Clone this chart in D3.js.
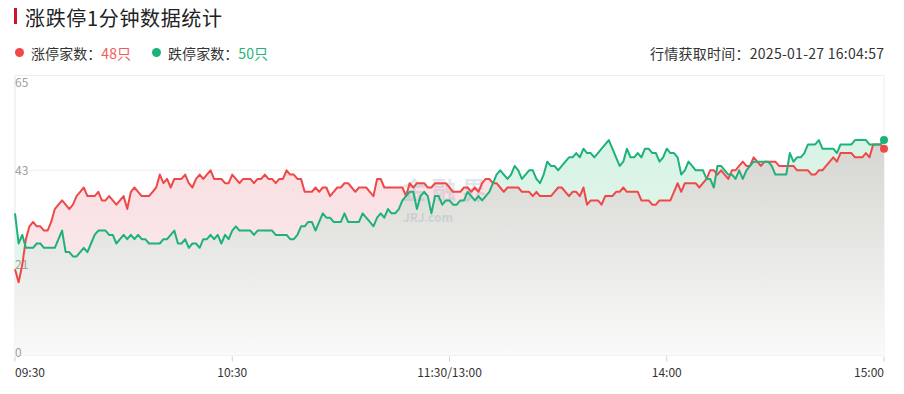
<!DOCTYPE html>
<html><head><meta charset="utf-8">
<script src="https://cdn.jsdelivr.net/npm/d3@7"></script>
<style>
body{margin:0;background:#fff;}
svg{display:block;font-family:"Microsoft YaHei","Noto Sans CJK SC","Noto Sans",sans-serif;}
</style>
</head><body>
<svg id="chart" width="904" height="394"></svg>
<script>
// ---- data ----
const title = "涨跌停1分钟数据统计";
const seriesNames = ["涨停家数", "跌停家数"];
const updateLabel = "行情获取时间：2025-01-27 16:04:57";
const xTickLabels = ["09:30", "10:30", "11:30/13:00", "14:00", "15:00"];
const xTickIndex = [0, 60, 120, 180, 240];
const yTicks = [0, 21, 43, 65];
// 涨停家数 per minute (241 points, 09:30 -> 15:00)
const limitUp = [
20,17,21,27,30,31,30,30,29,29,
31,34,35,36,35,34,35,37,38,39,
37,37,37,38,36,36,37,36,35,36,
37,34,38,39,38,37,37,37,38,39,
42,40,41,39,41,41,41,42,40,39,
41,42,41,42,43,41,41,41,40,40,
42,41,40,41,41,41,40,41,41,42,
41,41,40,41,41,43,42,42,41,41,
38,38,38,39,38,39,39,37,38,39,
39,40,40,39,38,39,39,39,38,37,
41,41,39,39,39,39,39,39,37,40,
39,40,40,40,39,39,40,40,40,40,
39,38,38,38,39,39,38,39,38,40,
41,41,40,40,39,38,39,39,39,39,
38,38,38,37,38,37,37,37,37,38,
39,39,38,37,38,38,37,39,35,36,
36,36,35,37,37,37,38,38,39,38,
38,38,38,36,36,36,35,35,36,36,
36,36,38,40,38,40,40,40,40,39,
40,41,43,43,42,43,42,41,43,43,
44,45,44,44,46,45,44,45,45,45,
45,44,44,44,44,44,43,43,43,43,
42,42,43,43,44,45,46,45,47,47,
47,47,46,46,46,47,46,49,49,49,
48];
// 跌停家数 per minute
const limitDown = [
33,26,28,25,25,25,26,26,25,25,
25,25,27,29,24,24,23,23,24,25,
24,26,28,29,29,29,28,28,26,27,
28,27,28,27,28,27,27,26,26,26,
26,27,27,28,29,26,26,27,25,26,
26,25,27,27,28,27,28,26,28,27,
29,30,29,29,29,29,28,29,29,29,
29,29,28,28,28,28,27,27,28,30,
30,31,31,29,31,33,32,32,31,31,
31,33,31,31,31,31,33,32,31,30,
32,33,32,34,33,33,34,36,37,38,
38,34,37,38,37,33,37,37,35,36,
36,35,35,36,36,38,37,36,37,36,
37,38,40,42,43,42,41,42,44,43,
41,42,43,43,41,40,42,45,44,44,
43,44,45,46,46,47,46,48,47,47,
46,47,48,49,50,48,46,44,45,48,
46,46,47,46,48,48,47,47,45,46,
48,47,47,46,42,43,45,44,43,43,
43,41,41,39,44,44,43,42,42,41,
43,41,43,44,45,45,45,45,45,44,
42,42,42,42,47,45,46,46,47,49,
49,49,50,48,48,48,48,47,49,49,
49,49,50,50,50,50,49,49,49,49,
50];

// ---- style ----
const RED = "#f04848", GREEN = "#1db27a";
const svg = d3.select("#chart");
const x = d3.scaleLinear().domain([0, 240]).range([15, 884]);
const y = d3.scaleLinear().domain([0, 65]).range([355.5, 75.5]);

const defs = svg.append("defs");
function grad(id, c0, c1){
  const g = defs.append("linearGradient").attr("id",id).attr("gradientUnits","userSpaceOnUse")
    .attr("x1",0).attr("x2",0).attr("y1",y(65)).attr("y2",y(0));
  g.append("stop").attr("offset","0%").attr("stop-color",c0);
  g.append("stop").attr("offset","100%").attr("stop-color",c1);
}
grad("gray", "#cacac4", "#fafafa");
grad("pink", "#f8d8dc", "#fbeef0");
grad("green", "#d2f1e2", "#ecf9f2");

const areaOf = arr => d3.area().x((d,i)=>x(i)).y0(y(0)).y1(d=>y(d))(arr);
const lineOf = arr => d3.line().x((d,i)=>x(i)).y(d=>y(d))(arr);

defs.append("clipPath").attr("id","clipGreen").append("path").attr("d", areaOf(limitDown));

// title
svg.append("rect").attr("x",14).attr("y",8).attr("width",3).attr("height",16).attr("fill","#cc1236");
svg.append("text").attr("x",25).attr("y",17).attr("dominant-baseline","central")
  .attr("font-size",20).attr("fill","#222").attr("textLength",197).attr("lengthAdjust","spacing").text(title);

// legend
const lg = [
  {name: seriesNames[0], val: limitUp[limitUp.length-1], color: RED, vcolor:"#f25a5a", cx:19.5, tx:31},
  {name: seriesNames[1], val: limitDown[limitDown.length-1], color: GREEN, vcolor:"#22b37a", cx:156.5, tx:168}
];
lg.forEach(l=>{
  svg.append("circle").attr("cx",l.cx).attr("cy",52.5).attr("r",4.5).attr("fill",l.color);
  const t = svg.append("text").attr("x",l.tx).attr("y",53).attr("dominant-baseline","central").attr("font-size",14)
    .attr("textLength",100).attr("lengthAdjust","spacing");
  t.append("tspan").attr("fill","#333").text(l.name + "：");
  t.append("tspan").attr("fill",l.vcolor).text(l.val + "只");
});
svg.append("text").attr("x",884).attr("y",53).attr("text-anchor","end").attr("dominant-baseline","central")
  .attr("font-size",14).attr("fill","#333").attr("textLength",234).attr("lengthAdjust","spacing").text(updateLabel);

// grid
yTicks.forEach(t=>{
  svg.append("line").attr("x1",x(0)).attr("x2",x(240)).attr("y1",y(t)).attr("y2",y(t))
    .attr("stroke", t===0 ? "#e2e2e2" : "#eeeeee").attr("stroke-width",1);
});
svg.append("line").attr("x1",x(0)).attr("x2",x(0)).attr("y1",y(65)).attr("y2",y(0)).attr("stroke","#e6e6e6");
svg.append("line").attr("x1",x(240)).attr("x2",x(240)).attr("y1",y(65)).attr("y2",y(0)).attr("stroke","#ececec");

// areas
svg.append("path").attr("d", areaOf(limitUp)).attr("fill","url(#pink)");
svg.append("path").attr("d", areaOf(limitDown)).attr("fill","url(#green)");
svg.append("path").attr("d", areaOf(limitUp)).attr("fill","url(#gray)").attr("clip-path","url(#clipGreen)");

// watermark (faint logo)
const wm = svg.append("g").attr("opacity",0.25).attr("fill","#8a9bb3").attr("font-weight","bold");
wm.append("text").attr("x",447).attr("y",188).attr("text-anchor","middle").attr("dominant-baseline","central")
  .attr("font-size",24).attr("letter-spacing",6).text("金融界");
wm.append("text").attr("x",403).attr("y",216).attr("dominant-baseline","central").attr("font-size",12).text("JRJ.com");

// y labels
const yOff = {65: 6, 43: -1, 21: -1.5, 0: -4.5};
yTicks.forEach(t=>{
  svg.append("text").attr("x",15).attr("y",y(t)+yOff[t]).attr("dominant-baseline","central")
    .attr("font-size",12).attr("fill","#a0a0a0").text(t);
});

// x ticks
xTickIndex.forEach((v,k)=>{
  svg.append("line").attr("x1",x(v)).attr("x2",x(v)).attr("y1",y(0)+1).attr("y2",y(0)+6).attr("stroke","#d0d0d0");
  svg.append("text").attr("x",x(v)).attr("y",371.5).attr("dominant-baseline","central")
    .attr("text-anchor", k===0 ? "start" : (k===xTickIndex.length-1 ? "end" : "middle"))
    .attr("font-size",12).attr("fill","#333").text(xTickLabels[k]);
});

// lines
svg.append("path").attr("d", lineOf(limitUp)).attr("fill","none").attr("stroke",RED).attr("stroke-width",2).attr("stroke-linejoin","round");
svg.append("path").attr("d", lineOf(limitDown)).attr("fill","none").attr("stroke",GREEN).attr("stroke-width",2).attr("stroke-linejoin","round");

// end points
svg.append("circle").attr("cx",x(240)).attr("cy",y(limitUp[240])).attr("r",4).attr("fill",RED);
svg.append("circle").attr("cx",x(240)).attr("cy",y(limitDown[240])).attr("r",4).attr("fill",GREEN);
</script>
</body></html>
